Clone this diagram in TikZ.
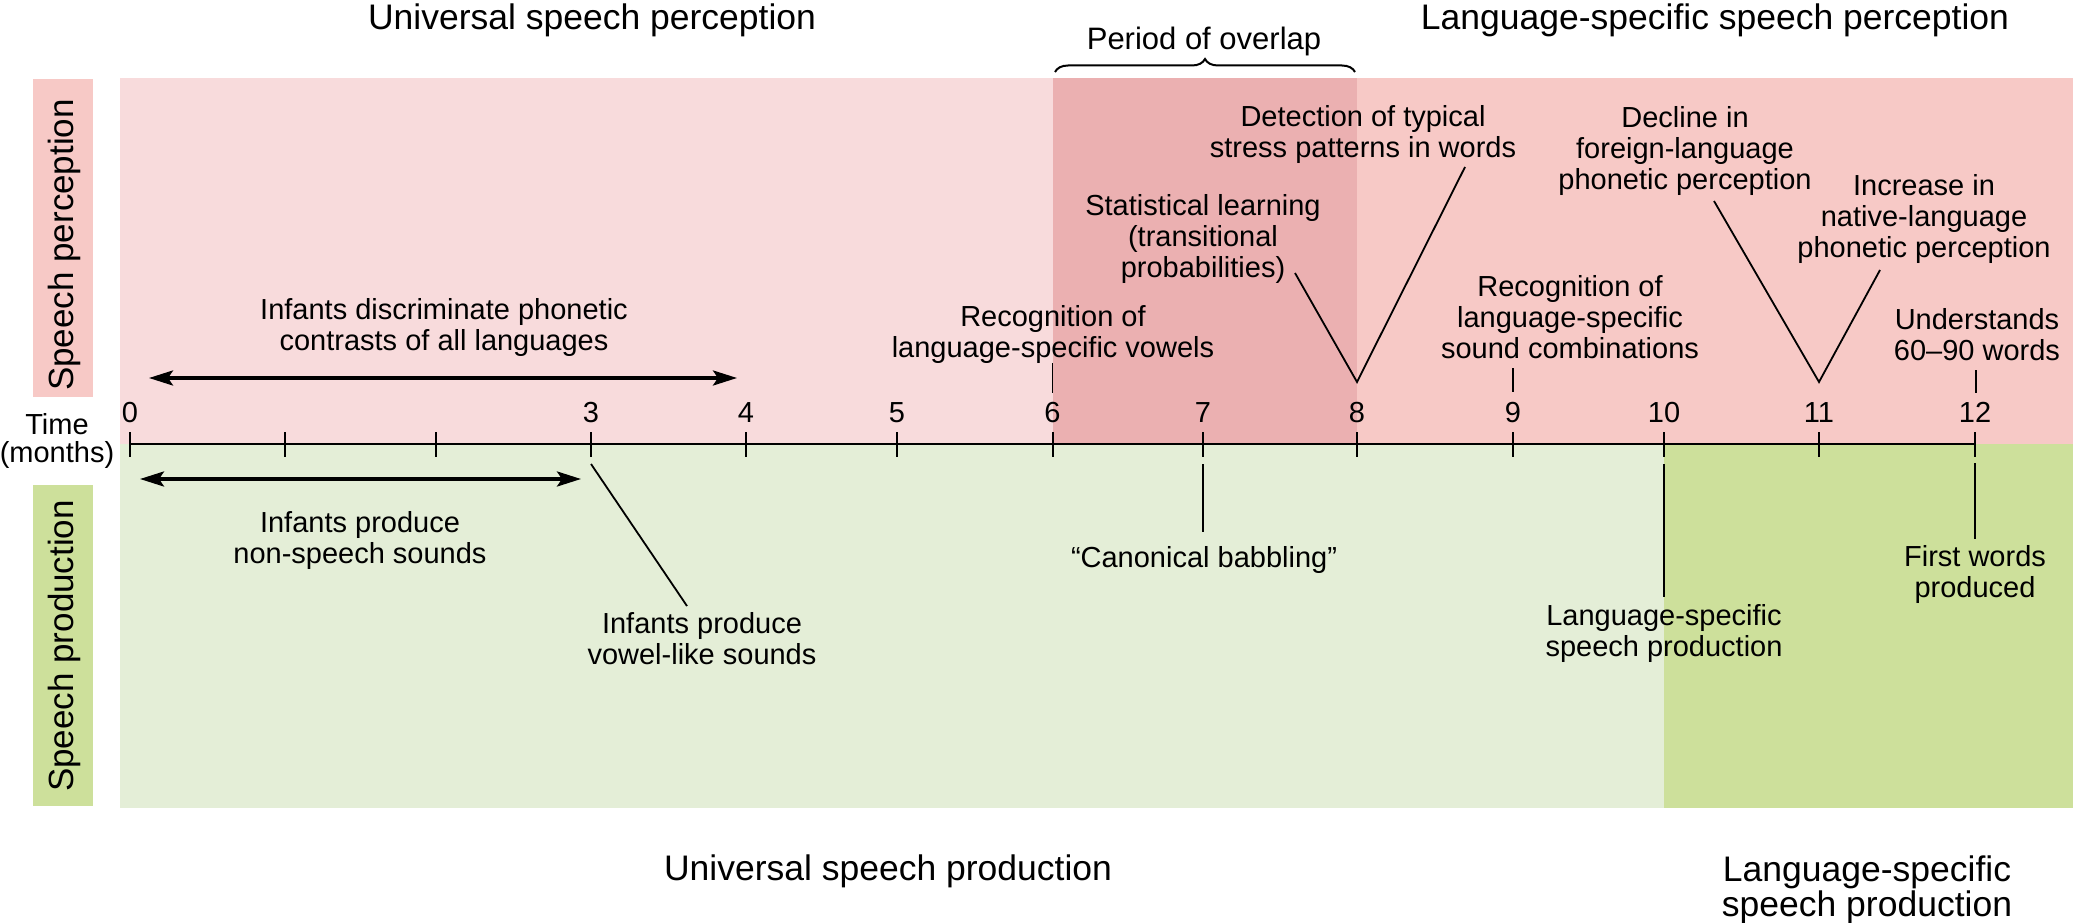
\documentclass[tikz,border=0pt]{standalone}
\usepackage{fontspec}
\setmainfont{Liberation Sans}
\usetikzlibrary{arrows.meta,decorations.pathreplacing}
\definecolor{pinkL}{HTML}{F8DBDC}
\definecolor{salmon}{HTML}{F7C9C6}
\definecolor{overlapc}{HTML}{EBB0B1}
\definecolor{greenL}{HTML}{E4EED7}
\definecolor{greenD}{HTML}{CDE09B}
\newcommand\mybody{\fontsize{29}{31}\selectfont}
\newcommand\myhead{\fontsize{35.5}{35}\selectfont}
\newcommand\myvert{\fontsize{35}{36}\selectfont}
\begin{document}
\begin{tikzpicture}[x=1pt,y=-1pt,
  lab/.style={font=\mybody, align=center, anchor=north, inner sep=0pt, execute at begin node=\strut},
  head/.style={font=\myhead, align=center, inner sep=0pt},
  ticklab/.style={font=\mybody, anchor=base, inner sep=0pt},
  vlab/.style={font=\myvert, rotate=90, anchor=base, inner sep=0pt},
  leader/.style={line width=1.8pt},
  axisline/.style={line width=2.5pt},
  tickline/.style={line width=2pt},
  dblarrow/.style={line width=3.5pt, {Stealth[length=24pt,width=15pt,inset=5pt]}-{Stealth[length=24pt,width=15pt,inset=5pt]}}
]
\useasboundingbox (0,0) rectangle (2073,923);
\fill[white] (0,0) rectangle (2073,923);
% backgrounds
\fill[pinkL] (120,78) rectangle (1052.5,444);
\fill[overlapc] (1052.5,78) rectangle (1357,444);
\fill[salmon] (1357,78) rectangle (2073,444);
\fill[greenL] (120,444) rectangle (1664,808);
\fill[greenD] (1664,444) rectangle (2073,808);
% side label boxes
\fill[salmon] (33,79) rectangle (93,397);
\fill[greenD] (33,485) rectangle (93,806);
\node[vlab] (sperc) at (73,245) {Speech perception};
\node[vlab] (sprod) at (73,646) {Speech production};
% headings
\node[head, anchor=base] (hup) at (592,30) {Universal speech perception};
\node[head, anchor=base] (hlp) at (1715,30) {Language-specific speech perception};
\node[head, anchor=base, font=\fontsize{31}{33}\selectfont] (hov) at (1204,50) {Period of overlap};
\node[head, anchor=base] (hupr) at (888,880) {Universal speech production};
\node[head, anchor=north, execute at begin node=\strut] (hlpr) at (1867,855.7) {Language-specific\\speech production};
\coordinate (b1) at (1055,72);
\coordinate (b2) at (1355,72);
\draw[line width=2pt, decorate, decoration={brace, amplitude=13pt}] (b1) -- (b2);
% time axis
\node[lab] (time) at (57,413.3) {Time\\[-3pt](months)};
\coordinate (m0) at (130,444);
\coordinate (m1) at (284.5,444);
\coordinate (m2) at (436,444);
\coordinate (m3) at (591,444);
\coordinate (m4) at (746,444);
\coordinate (m5) at (897,444);
\coordinate (m6) at (1052.5,444);
\coordinate (m7) at (1203,444);
\coordinate (m8) at (1357,444);
\coordinate (m9) at (1513,444);
\coordinate (m10) at (1664,444);
\coordinate (m11) at (1819,444);
\coordinate (m12) at (1975,444);
\draw[axisline] (m0) -- (m12);
\foreach \i in {0,...,12} {
  \draw[tickline] ([yshift=12pt]m\i) -- ([yshift=-13pt]m\i);
}
\foreach \i in {0,3,4,5,6,7,8,9,10,11,12} {
  \node[ticklab] (n\i) at ([yshift=22pt]m\i) {\i};
}
% arrows
\coordinate (a1) at (149,378);
\coordinate (a2) at (737,378);
\draw[dblarrow] (a1) -- (a2);
\coordinate (a3) at (140,479);
\coordinate (a4) at (581,479);
\draw[dblarrow] (a3) -- (a4);
% perception labels
\node[lab] (disc) at (444,298.7) {Infants discriminate phonetic\\contrasts of all languages};
\node[lab] (vow) at (1053,305.7) {Recognition of\\language-specific vowels};
\coordinate (vow1) at (1052.5,363);
\coordinate (vow2) at (1052.5,393);
\draw[leader] (vow1) -- (vow2);
\node[lab] (stat) at (1203,194.7) {Statistical learning\\(transitional\\probabilities)};
\node[lab] (stress) at (1363,105.7) {Detection of typical\\stress patterns in words};
\coordinate (s1) at (1295,273);
\coordinate (v8) at (1357,382);
\coordinate (s2) at (1465,167);
\draw[leader] (s1) -- (v8) -- (s2);
\node[lab] (sound) at (1570,275.7) {Recognition of\\language-specific\\sound combinations};
\coordinate (so1) at (1513,368);
\coordinate (so2) at (1513,392);
\draw[leader] (so1) -- (so2);
\node[lab] (decl) at (1685,106.7) {Decline in\\foreign-language\\phonetic perception};
\node[lab] (incr) at (1924,174.7) {Increase in\\native-language\\phonetic perception};
\coordinate (d1) at (1714,201);
\coordinate (v11) at (1819,382);
\coordinate (d2) at (1880,270);
\draw[leader] (d1) -- (v11) -- (d2);
\node[lab] (und) at (1977,308.7) {Understands\\60–90 words};
\coordinate (u1) at (1976,370);
\coordinate (u2) at (1976,393);
\draw[leader] (u1) -- (u2);
% production labels
\node[lab] (nonsp) at (360,511.7) {Infants produce\\non-speech sounds};
\node[lab] (vowl) at (702,612.7) {Infants produce\\vowel-like sounds};
\coordinate (vl1) at (591,464);
\coordinate (vl2) at (687,606);
\draw[leader] (vl1) -- (vl2);
\node[lab] (canon) at (1204,545.7) {“Canonical babbling”};
\coordinate (c1) at (1203,464);
\coordinate (c2) at (1203,532);
\draw[leader] (c1) -- (c2);
\node[lab] (lsp) at (1664,604.7) {Language-specific\\speech production};
\coordinate (l1) at (1664,464);
\coordinate (l2) at (1664,597);
\draw[leader] (l1) -- (l2);
\node[lab] (fw) at (1975,545.7) {First words\\produced};
\coordinate (f1) at (1975,463);
\coordinate (f2) at (1975,539);
\draw[leader] (f1) -- (f2);
\end{tikzpicture}
\end{document}
